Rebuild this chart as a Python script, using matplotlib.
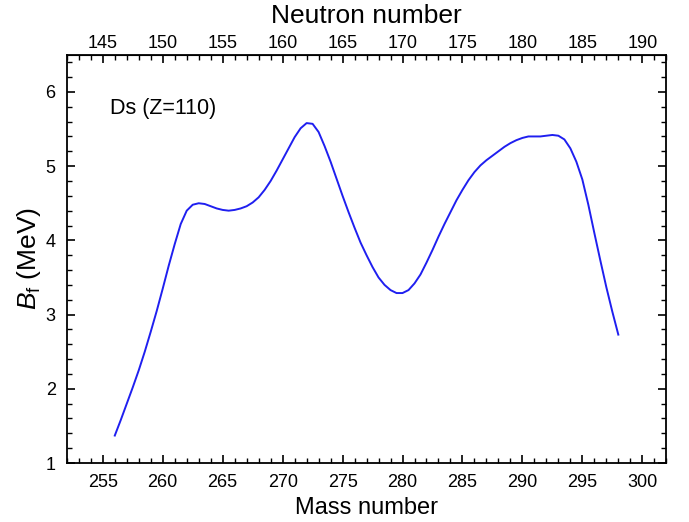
import matplotlib.pyplot as plt
from matplotlib.ticker import MultipleLocator, FixedLocator

plt.rcParams['font.family'] = ['Liberation Sans', 'DejaVu Sans']
plt.rcParams['mathtext.fontset'] = 'custom'
plt.rcParams['mathtext.rm'] = 'Liberation Sans'
plt.rcParams['mathtext.it'] = 'Liberation Sans:italic'

Z = 110
# mass numbers 256 ... 298 in steps of 0.5
mass_number = [256 + 0.5 * i for i in range(85)]
barrier = [1.37, 1.58, 1.80, 2.02, 2.25, 2.50, 2.77, 3.05, 3.35, 3.66,
           3.95, 4.22, 4.40, 4.48, 4.50, 4.49, 4.46, 4.43, 4.41, 4.40,
           4.41, 4.43, 4.46, 4.51, 4.58, 4.68, 4.80, 4.94, 5.09, 5.24,
           5.39, 5.51, 5.58, 5.57, 5.46, 5.27, 5.06, 4.83, 4.60, 4.38,
           4.17, 3.97, 3.80, 3.64, 3.50, 3.40, 3.33, 3.29, 3.29, 3.33,
           3.42, 3.54, 3.70, 3.87, 4.05, 4.22, 4.38, 4.54, 4.68, 4.81,
           4.92, 5.01, 5.08, 5.14, 5.20, 5.26, 5.31, 5.35, 5.38, 5.40,
           5.40, 5.40, 5.41, 5.42, 5.41, 5.36, 5.24, 5.06, 4.82, 4.48,
           4.10, 3.73, 3.37, 3.04, 2.73]

fig = plt.figure(figsize=(6.89, 5.22), dpi=100)
ax = fig.add_axes([0.097, 0.113, 0.870, 0.782])
ax.plot(mass_number, barrier, color='#1f1ff0', lw=1.4)

ax.set_xlim(252, 302)
ax.set_ylim(1, 6.5)
ax.xaxis.set_major_locator(MultipleLocator(5))
ax.xaxis.set_minor_locator(MultipleLocator(1))
ax.yaxis.set_major_locator(MultipleLocator(1))
ax.yaxis.set_minor_locator(MultipleLocator(0.2))
ax.tick_params(which='both', direction='in', right=True, labelsize=13)
ax.tick_params(which='major', length=6, width=1.2)
ax.tick_params(which='minor', length=3.5, width=1.0)
ax.tick_params(axis='x', pad=8)
ax.tick_params(axis='y', pad=8)
for s in ax.spines.values():
    s.set_linewidth(1.3)

ax.set_xlabel('Mass number', fontsize=17, labelpad=4)
ax.set_ylabel('$B_\\mathrm{f}$ (MeV)', fontsize=19, labelpad=2)

top = ax.secondary_xaxis('top', functions=(lambda a: a - Z, lambda n: n + Z))
top.xaxis.set_major_locator(FixedLocator(list(range(145, 191, 5))))
top.xaxis.set_minor_locator(FixedLocator(list(range(142, 193))))
top.tick_params(which='both', direction='in', labelsize=13, pad=2)
top.tick_params(which='major', length=6, width=1.2)
top.tick_params(which='minor', length=3.5, width=1.0)
top.set_xlabel('Neutron number', fontsize=19, labelpad=9)

ax.text(255.6, 5.77, 'Ds (Z=110)', fontsize=15.5, va='center')

fig.savefig('out.png', dpi=100)
